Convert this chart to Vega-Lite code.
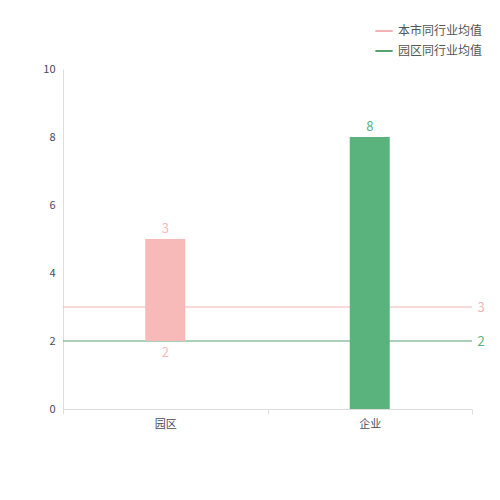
{
  "$schema": "https://vega.github.io/schema/vega-lite/v6.json",
  "autosize": "none",
  "width": 409,
  "height": 340,
  "padding": {"left": 63, "top": 69, "right": 28, "bottom": 91},
  "background": "white",
  "config": {
    "font": "Noto Sans CJK SC",
    "view": {"stroke": null},
    "axis": {"grid": false, "labelFont": "Noto Sans CJK SC", "labelColor": "#4a4a5e", "labelFontSize": 11, "domainColor": "#dddddd", "tickColor": "#dddddd"}
  },
  "datasets": {
    "bars": [
      {"cat": "园区", "start": 2, "end": 5, "value": 3},
      {"cat": "企业", "start": 0, "end": 8, "value": 8}
    ],
    "avg": [
      {"name": "本市同行业均值", "value": 3},
      {"name": "园区同行业均值", "value": 2}
    ]
  },
  "layer": [
    {
      "data": {"name": "avg"},
      "mark": {"type": "rule", "strokeWidth": 1},
      "encoding": {
        "y": {"field": "value", "type": "quantitative", "title": null, "scale": {"domain": [0, 10]},
              "axis": {"orient": "right", "values": [2, 3], "domain": false, "ticks": false, "labelPadding": 5,
                       "labelFontSize": 13,
                       "labelColor": {"expr": "datum.value == 3 ? '#f5b3b3' : '#5ab37c'"}}},
        "color": {"field": "name", "type": "nominal", "title": null,
                  "scale": {"domain": ["本市同行业均值", "园区同行业均值"], "range": ["#f2b2b2", "#55a373"]},
                  "legend": {"orient": "none", "legendX": 311, "legendY": -48, "symbolType": "stroke",
                             "symbolSize": 300, "symbolStrokeWidth": 2, "labelFontSize": 12,
                             "labelColor": "#555555", "labelFont": "Noto Sans CJK SC", "rowPadding": 4}}
      }
    },
    {
      "data": {"name": "bars"},
      "mark": {"type": "bar", "size": 40},
      "encoding": {
        "x": {"field": "cat", "type": "nominal", "sort": ["园区", "企业"], "title": null,
              "scale": {"paddingInner": 0, "paddingOuter": 0},
              "axis": {"labelAngle": 0, "ticks": true, "tickBand": "extent", "tickSize": 5, "labelPadding": 4}},
        "y": {"field": "end", "type": "quantitative", "scale": {"domain": [0, 10]}, "title": null,
              "axis": {"orient": "left", "values": [0, 2, 4, 6, 8, 10], "ticks": false, "labelPadding": 8}},
        "y2": {"field": "start"},
        "color": {"field": "cat", "type": "nominal", "legend": null,
                  "scale": {"domain": ["园区", "企业"], "range": ["#f8b9b9", "#5ab37c"]}}
      }
    },
    {
      "data": {"name": "bars"},
      "mark": {"type": "text", "dy": -10, "fontSize": 13},
      "encoding": {
        "x": {"field": "cat", "type": "nominal", "sort": ["园区", "企业"]},
        "y": {"field": "end", "type": "quantitative", "axis": null},
        "text": {"field": "value"},
        "color": {"field": "cat", "type": "nominal", "legend": null,
                  "scale": {"domain": ["园区", "企业"], "range": ["#f8b9b9", "#5ab37c"]}}
      }
    },
    {
      "data": {"name": "bars"},
      "transform": [{"filter": "datum.start > 0"}],
      "mark": {"type": "text", "dy": 12, "fontSize": 13},
      "encoding": {
        "x": {"field": "cat", "type": "nominal", "sort": ["园区", "企业"]},
        "y": {"field": "start", "type": "quantitative", "axis": null},
        "text": {"field": "start"},
        "color": {"field": "cat", "type": "nominal", "legend": null,
                  "scale": {"domain": ["园区", "企业"], "range": ["#f8b9b9", "#5ab37c"]}}
      }
    }
  ],
  "resolve": {"scale": {"color": "independent"}, "axis": {"y": "independent"}}
}
